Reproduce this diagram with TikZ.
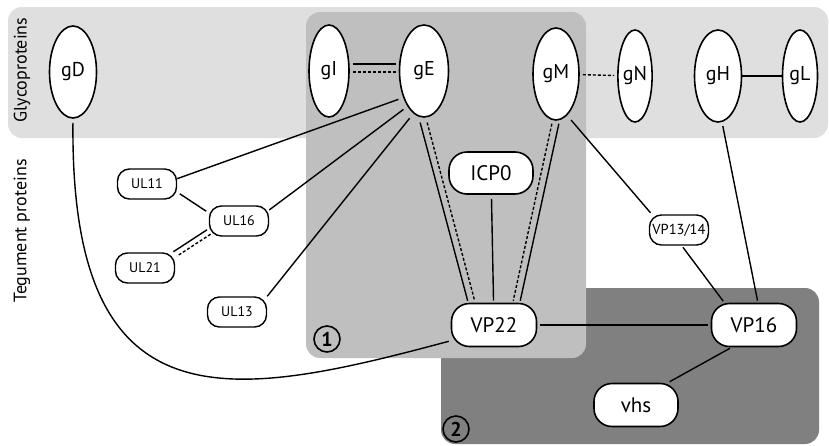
\documentclass[tikz,border=0pt]{standalone}
\usepackage{fontspec}
\setmainfont{PT Sans}
\usetikzlibrary{shapes.geometric}
\begin{document}
\begin{tikzpicture}[x=1pt, y=-1pt,
    glyco/.style={ellipse, draw, fill=white, line width=1.6pt, inner sep=0pt,
                  minimum width=#1, minimum height=92pt, font=\fontsize{20}{20}\selectfont},
    glyco/.default=48pt,
    pill/.style={draw, fill=white, line width=1.6pt, rounded corners=18pt,
                 minimum width=85pt, minimum height=43pt, inner sep=0pt,
                 font=\fontsize{21}{21}\selectfont},
    tag/.style={draw, fill=white, line width=1.4pt, rounded corners=12pt,
                minimum width=59pt, minimum height=30pt, inner sep=0pt,
                font=\fontsize{14}{14}\selectfont},
    link/.style={line width=1.4pt},
    weak/.style={link, dash pattern=on 3pt off 2pt},
    region/.style={rounded corners=14pt},
    circnum/.style={circle, draw, line width=1.6pt, inner sep=0pt, minimum size=26pt,
                    font=\fontsize{20}{20}\selectfont\bfseries},
    side/.style={rotate=90, font=\fontsize{18}{18}\selectfont}
  ]
  \clip (0,0) rectangle (829,445);

  % Regions
  \fill[gray!25, region] (8,7) rectangle (828,138);
  \fill[gray, region] (441,288) rectangle (819,444);
  \fill[gray!50, region] (306,12) rectangle (586,358);

  \node[side] (glab) at (22,70) {Glycoproteins};
  \node[side] (tlab) at (22,231) {Tegument proteins};
  \node[circnum] (one) at (327,339) {1};
  \node[circnum] (two) at (456,429) {2};

  % Glycoproteins
  \node[glyco=47pt] (gD) at (73,72)  {gD};
  \node[glyco=40pt] (gI) at (329,71) {gI};
  \node[glyco=49pt] (gE) at (424,71) {gE};
  \node[glyco=46pt] (gM) at (556,74) {gM};
  \node[glyco=34pt] (gN) at (635,76) {gN};
  \node[glyco=47pt] (gH) at (718,76) {gH};
  \node[glyco=35pt] (gL) at (800,76) {gL};

  % Tegument proteins
  \node[tag] (UL11) at (147,184) {UL11};
  \node[tag] (UL16) at (239,221) {UL16};
  \node[tag] (UL21) at (145,268) {UL21};
  \node[tag] (UL13) at (237,312) {UL13};
  \node[tag, font=\fontsize{14.5}{14.5}\selectfont] (VP1314) at (679,230) {VP13/14};
  \node[pill, minimum width=84pt, minimum height=42pt] (ICP0) at (491,173) {ICP0};
  \node[pill] (VP22) at (494,325) {VP22};
  \node[pill] (VP16) at (754,325) {VP16};
  \node[pill, minimum width=84pt] (vhs) at (636,405) {vhs};

  % Interactions
  \draw[link, shorten <=3pt, shorten >=3pt, transform canvas={yshift=7pt}] (gI) -- (gE);
  \draw[weak, shorten <=3pt, shorten >=3pt, transform canvas={yshift=-1pt}] (gI) -- (gE);
  \draw[weak, shorten <=3pt, shorten >=3pt] (gM) -- (gN);
  \draw[link] (gH) -- (gL);

  \draw[link, shorten <=5pt] (gE.-128) -- (UL11.10);
  \draw[link, shorten <=5pt] (gE.-115) -- (UL16.20);
  \draw[link, shorten <=6pt] (gE.-104) -- (UL13.north east);
  \draw[link, shorten <=3pt, shorten >=3pt] (UL11.-15) -- (UL16.165);
  \draw[link, transform canvas={xshift=-1.8pt, yshift=2.2pt}] (UL16.200) -- (UL21.25);
  \draw[weak, transform canvas={xshift=1.8pt, yshift=-2.2pt}] (UL16.200) -- (UL21.25);

  \draw[link, shorten <=5pt, shorten >=2pt, transform canvas={xshift=-3.5pt}] (gE.-92) -- (VP22.135);
  \draw[weak, shorten <=5pt, shorten >=2pt, transform canvas={xshift=3.5pt}] (gE.-92) -- (VP22.135);
  \draw[weak, shorten <=3pt, shorten >=2pt, transform canvas={xshift=-3.5pt}] (gM.-90) -- (VP22.45);
  \draw[link, shorten <=3pt, shorten >=2pt, transform canvas={xshift=3.5pt}] (gM.-90) -- (VP22.45);
  \draw[link, shorten <=4pt, shorten >=2pt] (ICP0) -- (VP22);

  \draw[link, shorten <=6pt, shorten >=2pt] (gM.-75) -- (VP1314.150);
  \draw[link, shorten <=2pt, shorten >=2pt] (VP1314.-80) -- (VP16.143);
  \draw[link, shorten <=4pt, shorten >=2pt] (gH.-85) -- (VP16.80);
  \draw[link, shorten <=3pt, shorten >=3pt] (VP22) -- (VP16);
  \draw[link, shorten <=2pt, shorten >=2pt] (VP16.-135) -- (vhs.35);

  \draw[link, shorten <=4pt, shorten >=2pt] (gD.-90) .. controls (70,430) and (230,400) .. (VP22.200);
\end{tikzpicture}
\end{document}
